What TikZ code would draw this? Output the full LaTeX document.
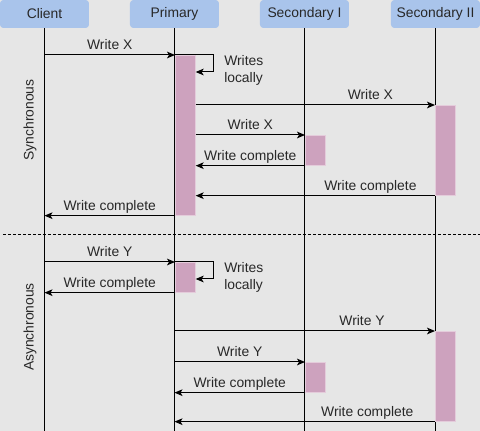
\documentclass[tikz,border=0pt]{standalone}
\usepackage{fontspec}
\setmainfont{Liberation Sans}
\usetikzlibrary{arrows.meta}
\definecolor{canvas}{RGB}{230,230,230}
\definecolor{head}{RGB}{169,196,235}
\definecolor{act}{RGB}{205,162,190}
\definecolor{ink}{RGB}{40,40,40}
\tikzstyle{header} = [rectangle, rounded corners=2.5pt, minimum width=66.75pt, minimum height=21pt, inner sep=0, fill=head, text=ink, font=\fontsize{10.4}{12}\selectfont]
\tikzstyle{life} = [line width=0.75pt, draw=black]
\tikzstyle{bar} = [rectangle, anchor=north west, inner sep=0, minimum width=15pt, fill=act, draw=act!55!white, line width=0.5pt]
\tikzstyle{msg} = [line width=0.75pt, -{Stealth[length=6pt, width=5pt, inset=1.5pt]}]
\tikzstyle{lbl} = [anchor=base, yshift=3.75pt, inner sep=0, text=ink, font=\fontsize{10.4}{12}\selectfont]
\tikzstyle{note} = [anchor=west, align=left, inner sep=0, text=ink, font=\fontsize{10.4}{12.75}\selectfont]

\begin{document}
\begin{tikzpicture}[x=0.75pt, y=-0.75pt]
        \fill[canvas] (0,0) rectangle (480,431);
        \useasboundingbox (0,0) rectangle (480,431);
        \coordinate (bottom) at (0,431);

        % participants
        \node (client) [header] at (44.5,14) {Client};
        \node (primary) [header] at (174.5,14) {Primary};
        \node (sec1) [header] at (304.5,14) {Secondary I};
        \node (sec2) [header] at (435.5,14) {Secondary II};

        \foreach \p in {client, primary, sec1, sec2}
            \draw [life] (\p.south) -- (\p |- bottom);

        % activation bars
        \node (pa) [bar, minimum height=120pt] at (175,55) {};
        \node (sa1) [bar, minimum height=22.5pt] at (305,135) {};
        \node (sa2) [bar, minimum height=67.5pt] at (435,105) {};
        \node (pb) [bar, minimum height=22.5pt] at (175,262) {};
        \node (sb1) [bar, minimum height=22.5pt] at (305,362) {};
        \node (sb2) [bar, minimum height=67.5pt] at (435,331) {};

        % section labels
        \node (sync) [lbl, anchor=center, yshift=0, rotate=90] at (30,125) {Synchronous};
        \node (async) [lbl, anchor=center, yshift=0, rotate=90] at (30,332) {Asynchronous};
        \coordinate (split0) at (3,235);
        \coordinate (split1) at (480,235);
        \draw [line width=0.75pt, dash pattern=on 2.25pt off 1.5pt] (split0) -- (split1);

        % synchronous
        \draw [msg] (client |- pa.north west) -- node[lbl] {Write X} (pa.north west);
        \coordinate (loop0) at (214,72);
        \draw [msg] (pa.north west) -| (loop0) -- (pa.east |- loop0);
        \node (note0) [note] at (224,70) {Writes\\locally};
        \draw [msg] (pa.east |- sa2.north) -- node[lbl, pos=0.73] {Write X} (sa2.north west);
        \draw [msg] (pa.east |- sa1.north) -- node[lbl] {Write X} (sa1.north west);
        \draw [msg] (sa1.south west) -- node[lbl] {Write complete} (pa.east |- sa1.south);
        \draw [msg] (sa2.south west) -- node[lbl, pos=0.27] {Write complete} (pa.east |- sa2.south);
        \draw [msg] (pa.south west) -- node[lbl] {Write complete} (client |- pa.south);

        % asynchronous
        \draw [msg] (client |- pb.north west) -- node[lbl] {Write Y} (pb.north west);
        \coordinate (loop1) at (214,279);
        \draw [msg] (pb.north west) -| (loop1) -- (pb.east |- loop1);
        \node (note1) [note] at (224,277) {Writes\\locally};
        \draw [msg] (pb.south west) -- node[lbl] {Write complete} (client |- pb.south);
        \draw [msg] (primary |- sb2.north) -- node[lbl, pos=0.72] {Write Y} (sb2.north west);
        \draw [msg] (primary |- sb1.north) -- node[lbl] {Write Y} (sb1.north west);
        \draw [msg] (sb1.south west) -- node[lbl] {Write complete} (primary |- sb1.south);
        \draw [msg] (sb2.south west) -- node[lbl, pos=0.26] {Write complete} (primary |- sb2.south);
    \end{tikzpicture}
\end{document}
